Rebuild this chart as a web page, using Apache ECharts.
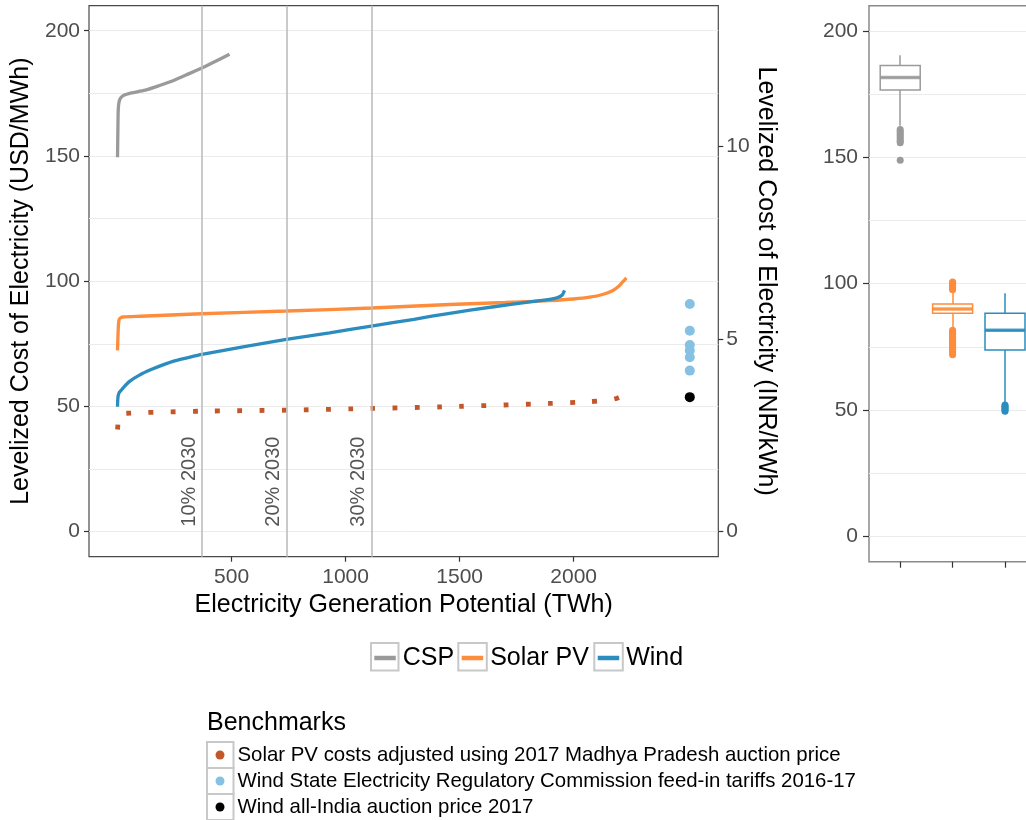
<!DOCTYPE html>
<html>
<head>
<meta charset="utf-8">
<script src="https://cdn.jsdelivr.net/npm/echarts@6/dist/echarts.min.js"></script>
<style>html,body{margin:0;padding:0;background:#fff;}#c{width:1026px;height:820px;}</style>
</head>
<body>
<div id="c"></div>
<script>
// ---------------- DATA ----------------
const INR_PER_USD_MWH = 15.385; // 1 INR/kWh = 15.385 USD/MWh
const cspX   = [0, 1, 2, 3, 5, 9, 16, 30, 53, 90, 126, 180, 243, 300, 367, 430, 491];
const cspY   = [149.5, 156, 163, 168, 170.5, 172.3, 173.4, 174.3, 175, 175.7, 176.4, 178, 180, 182.3, 185, 187.8, 190.6];
const solarX = [0, 2, 4, 7, 12, 23, 100, 368, 741, 1114, 1456, 1700, 1895, 2000, 2070, 2130, 2172, 2200, 2215, 2231];
const solarY = [72.4, 78, 82.5, 84.6, 85.3, 85.7, 86.0, 87.0, 88.1, 89.3, 90.7, 91.5, 92.3, 92.9, 93.6, 94.8, 96.3, 98.2, 99.7, 101.3];
const windX  = [0, 1, 3, 8, 23, 50, 96, 150, 199, 250, 300, 370, 550, 740, 930, 1113, 1300, 1456, 1650, 1800, 1895, 1930, 1950, 1960];
const windY  = [49.9, 52.5, 54.3, 55.6, 57.2, 59.8, 62.5, 64.8, 66.6, 68.2, 69.3, 70.8, 73.8, 76.8, 79.4, 82.1, 84.8, 87.2, 89.8, 91.6, 92.7, 93.5, 94.5, 96.3];
const solarAdjX = [0, 3, 6, 12, 23, 100, 368, 741, 1114, 1456, 1895, 2070, 2172, 2209, 2231];
const solarAdjY = [40.8, 44, 46.3, 47, 47.2, 47.5, 48.1, 48.5, 49.2, 49.9, 51.2, 51.9, 52.8, 54.0, 55.5];
const benchmarkX = 2509;
const windFitY = [90.9, 80.2, 74.5, 72.3, 69.6, 64.3];
const windAuctionY = [53.7];
const milestoneX = [371, 742, 1113];
const milestoneLabels = ['10% 2030', '20% 2030', '30% 2030'];
const xTicks = [500, 1000, 1500, 2000];
const yTicks = [0, 50, 100, 150, 200];
const yGrid = [0, 25, 50, 75, 100, 125, 150, 175, 200];
const inrTicks = [0, 5, 10];
// boxplot summaries
const boxCats = ['CSP', 'Solar PV', 'Wind'];
const boxLow  = [162.5, 82.3, 52.5];
const boxQ1   = [176.6, 88.3, 73.8];
const boxMed  = [181.6, 90.0, 81.6];
const boxQ3   = [186.3, 92.0, 88.3];
const boxHigh = [190.4, 96.5, 96.2];
const cspOutliers = [161.0, 160.3, 159.5, 158.7, 157.9, 157.1, 156.4, 155.8, 148.8];
const solarOutliers = [97.6, 98.0, 98.5, 99.0, 99.5, 100.0, 100.4, 100.7, 81.6, 81.0, 80.4, 79.8, 79.2, 78.6, 78.0, 77.4, 76.8, 76.2, 75.6, 75.0, 74.4, 73.8, 73.2, 72.6, 71.9];
const windOutliers = [52.0, 51.5, 51.0, 50.5, 50.0, 49.5];

const seriesNames = ['CSP', 'Solar PV', 'Wind'];
const benchNames = ['Solar PV costs adjusted using 2017 Madhya Pradesh auction price',
  'Wind State Electricity Regulatory Commission feed-in tariffs 2016-17',
  'Wind all-India auction price 2017'];

// ---------------- STYLE ----------------
const FONT = "'Liberation Sans', Arial, sans-serif";
const C_CSP = '#9a9a9a', C_SOLAR = '#FD8D3C', C_WIND = '#2B8CBE';
const C_ADJ = '#C4572A', C_FIT = '#86C1E4', C_AUC = '#000000';
const boxColors = [C_CSP, C_SOLAR, C_WIND];
const zip = (xs, ys) => xs.map((x, i) => [x, ys[i]]);

const chart = echarts.init(document.getElementById('c'), null, {renderer: 'canvas'});

const tickLabelStyle = () => ({fontFamily: FONT, fontSize: 21, color: '#4d4d4d'});
const nameStyle = () => ({fontFamily: FONT, fontSize: 25, color: '#000'});
const plainNum = v => String(v);
const tickLine = () => ({color: '#333', width: 1.2});
const noLine = () => ({show: false, onZero: false});

const outlierData = [];
cspOutliers.forEach(v => outlierData.push({value: [0, v], itemStyle: {color: boxColors[0]}}));
solarOutliers.forEach(v => outlierData.push({value: [1, v], itemStyle: {color: boxColors[1]}}));
windOutliers.forEach(v => outlierData.push({value: [2, v], itemStyle: {color: boxColors[2]}}));

const whiskerData = [];
boxCats.forEach((c, i) => {
  whiskerData.push({coords: [[c, boxQ3[i]], [c, boxHigh[i]]], lineStyle: {color: boxColors[i]}});
  whiskerData.push({coords: [[c, boxLow[i]], [c, boxQ1[i]]], lineStyle: {color: boxColors[i]}});
});

const legendCommon = () => ({
  orient: 'horizontal', top: 644, itemWidth: 21.5, itemHeight: 4.5, itemGap: 0, padding: 0,
  selectedMode: false,
  textStyle: {fontFamily: FONT, fontSize: 25, color: '#000', lineHeight: 28, padding: [0, 0, 0, 2]}
});
const frame = (x, y, w, h) => ({type: 'rect', silent: true, shape: {x: x, y: y, width: w, height: h},
  style: {fill: 'none', stroke: '#c8c8c8', lineWidth: 2}});

// axis that only carries faint grid lines (ticks hidden)
const gridYAxis = (gi) => ({
  gridIndex: gi, type: 'value', position: 'left', min: -10, max: 210,
  axisLine: noLine(), axisLabel: {show: false},
  axisTick: {show: false, customValues: yGrid},
  splitLine: {show: true, lineStyle: {color: '#ebebeb', width: 1}}
});

const option = {
  animation: false,
  backgroundColor: '#fff',
  title: {
    text: 'Benchmarks', left: 207, top: 711, padding: 0,
    textStyle: {fontFamily: FONT, fontSize: 25, fontWeight: 'normal', color: '#000'}
  },
  legend: [
    Object.assign(legendCommon(), {left: 374.3, data: [{name: seriesNames[0], icon: 'rect'}]}),
    Object.assign(legendCommon(), {left: 461.7, data: [{name: seriesNames[1], icon: 'rect'}]}),
    Object.assign(legendCommon(), {left: 597.7, data: [{name: seriesNames[2], icon: 'rect'}]}),
    {
      orient: 'vertical', left: 215.5, top: 742, itemWidth: 9, itemHeight: 9, itemGap: 0, padding: 0,
      selectedMode: false, icon: 'circle',
      data: benchNames,
      textStyle: {fontFamily: FONT, fontSize: 20.4, color: '#000', lineHeight: 26, padding: [0, 0, 0, 8]}
    }
  ],
  graphic: [
    frame(371, 643, 27.5, 27.5), frame(458.3, 643, 28.5, 27.5), frame(594.3, 643, 28.5, 27.5),
    frame(207, 742, 26.5, 26), frame(207, 768, 26.5, 26), frame(207, 794, 26.5, 26)
  ],
  grid: [
    {left: 89, top: 5.7, width: 629.3, height: 551, show: true, borderColor: '#4a4a4a', borderWidth: 1.2, backgroundColor: 'transparent', containLabel: false, outerBoundsMode: 'none'},
    {left: 869, top: 5.7, width: 165, height: 556, show: true, borderColor: '#8a8a8a', borderWidth: 1.5, backgroundColor: 'transparent', containLabel: false, outerBoundsMode: 'none'},
    {left: 874, top: 5.7, width: 157.2, height: 556, show: false, containLabel: false, outerBoundsMode: 'none'}
  ],
  xAxis: [
    {
      gridIndex: 0, type: 'value', min: -125, max: 2634,
      axisLine: noLine(), splitLine: {show: false},
      axisTick: {show: true, length: 5, customValues: xTicks, lineStyle: tickLine()},
      axisLabel: Object.assign({customValues: xTicks, margin: 10, formatter: plainNum}, tickLabelStyle()),
      name: 'Electricity Generation Potential (TWh)', nameLocation: 'middle', nameGap: 36, nameMoveOverlap: false,
      nameTextStyle: nameStyle()
    },
    {gridIndex: 1, type: 'value', min: 0, max: 1, show: false, axisLine: noLine()},
    {
      gridIndex: 2, type: 'category', data: boxCats, boundaryGap: true,
      axisLine: noLine(), splitLine: {show: false},
      axisTick: {show: true, alignWithLabel: true, interval: 0, length: 6, lineStyle: tickLine()},
      axisLabel: {show: false}
    }
  ],
  yAxis: [
    {
      gridIndex: 0, type: 'value', position: 'left', min: -10, max: 210,
      axisLine: noLine(), splitLine: {show: false},
      axisTick: {show: true, length: 5, customValues: yTicks, lineStyle: tickLine()},
      axisLabel: Object.assign({customValues: yTicks, margin: 9, formatter: plainNum}, tickLabelStyle()),
      name: 'Levelized Cost of Electricity (USD/MWh)', nameLocation: 'middle', nameGap: 55, nameRotate: 90, nameMoveOverlap: false,
      nameTextStyle: nameStyle()
    },
    {
      gridIndex: 0, type: 'value', position: 'right', min: -10 / INR_PER_USD_MWH, max: 210 / INR_PER_USD_MWH,
      axisLine: noLine(), splitLine: {show: false},
      axisTick: {show: true, length: 5, customValues: inrTicks, lineStyle: tickLine()},
      axisLabel: Object.assign({customValues: inrTicks, margin: 8, formatter: plainNum}, tickLabelStyle()),
      name: 'Levelized Cost of Electricity (INR/kWh)', nameLocation: 'middle', nameGap: 35, nameRotate: -90, nameMoveOverlap: false,
      nameTextStyle: nameStyle()
    },
    {
      gridIndex: 1, type: 'value', position: 'left', min: -10, max: 210,
      axisLine: noLine(), splitLine: {show: false},
      axisTick: {show: true, length: 6, customValues: yTicks, lineStyle: tickLine()},
      axisLabel: Object.assign({customValues: yTicks, margin: 11, formatter: plainNum}, tickLabelStyle())
    },
    {gridIndex: 2, type: 'value', min: -10, max: 210, show: false, axisLine: noLine()},
    gridYAxis(0),
    gridYAxis(1)
  ],
  series: [
    {
      type: 'line', name: 'milestones', xAxisIndex: 0, yAxisIndex: 0, data: [], z: 1, silent: true,
      markLine: {
        silent: true, symbol: ['none', 'none'], animation: false,
        lineStyle: {color: '#bdbdbd', width: 1.6, type: 'solid'},
        label: {show: true, formatter: '{b}', position: 'insideStartTop', distance: [30, 3],
                fontFamily: FONT, fontSize: 20, color: '#555'},
        emphasis: {disabled: true},
        data: milestoneX.map((x, i) => ({xAxis: x, name: milestoneLabels[i]}))
      }
    },
    {type: 'line', name: seriesNames[0], xAxisIndex: 0, yAxisIndex: 0, data: zip(cspX, cspY), showSymbol: false, smooth: 0.2, color: C_CSP, lineStyle: {width: 3.3, color: C_CSP}, z: 3},
    {type: 'line', name: seriesNames[1], xAxisIndex: 0, yAxisIndex: 0, data: zip(solarX, solarY), showSymbol: false, smooth: 0.2, color: C_SOLAR, lineStyle: {width: 3.3, color: C_SOLAR}, z: 3},
    {type: 'line', name: seriesNames[2], xAxisIndex: 0, yAxisIndex: 0, data: zip(windX, windY), showSymbol: false, smooth: 0.2, color: C_WIND, lineStyle: {width: 3.3, color: C_WIND}, z: 4},
    {type: 'line', name: benchNames[0], xAxisIndex: 0, yAxisIndex: 0, data: zip(solarAdjX, solarAdjY), showSymbol: false, smooth: 0.2, color: C_ADJ, lineStyle: {width: 4.8, color: C_ADJ, type: [4.8, 17.4], cap: 'butt'}, z: 3},
    {type: 'scatter', name: benchNames[1], xAxisIndex: 0, yAxisIndex: 0, data: windFitY.map(v => [benchmarkX, v]), symbolSize: 10, color: C_FIT, itemStyle: {color: C_FIT, opacity: 1}, z: 5},
    {type: 'scatter', name: benchNames[2], xAxisIndex: 0, yAxisIndex: 0, data: windAuctionY.map(v => [benchmarkX, v]), symbolSize: 10, color: C_AUC, itemStyle: {color: C_AUC, opacity: 1}, z: 5},
    {
      type: 'boxplot', name: 'box', xAxisIndex: 2, yAxisIndex: 3, boxWidth: [40, 40], z: 3,
      itemStyle: {color: '#fff', borderWidth: 1.5},
      data: boxCats.map((c, i) => ({value: [boxQ1[i], boxQ1[i], boxMed[i], boxQ3[i], boxQ3[i]], itemStyle: {borderColor: boxColors[i], color: '#fff', borderWidth: 1.5}}))
    },
    {
      type: 'lines', name: 'whiskers', coordinateSystem: 'cartesian2d', xAxisIndex: 2, yAxisIndex: 3, z: 2,
      lineStyle: {width: 1.5, opacity: 1, curveness: 0}, data: whiskerData, silent: true
    },
    {
      type: 'scatter', name: 'medians', xAxisIndex: 2, yAxisIndex: 3, symbol: 'rect', symbolSize: [40, 3.4], z: 4,
      data: boxCats.map((c, i) => ({value: [i, boxMed[i]], itemStyle: {color: boxColors[i]}})), silent: true
    },
    {
      type: 'scatter', name: 'outliers', xAxisIndex: 2, yAxisIndex: 3, symbolSize: 7, z: 4,
      itemStyle: {opacity: 1}, data: outlierData, silent: true
    }
  ]
};
chart.setOption(option);
</script>
</body>
</html>
